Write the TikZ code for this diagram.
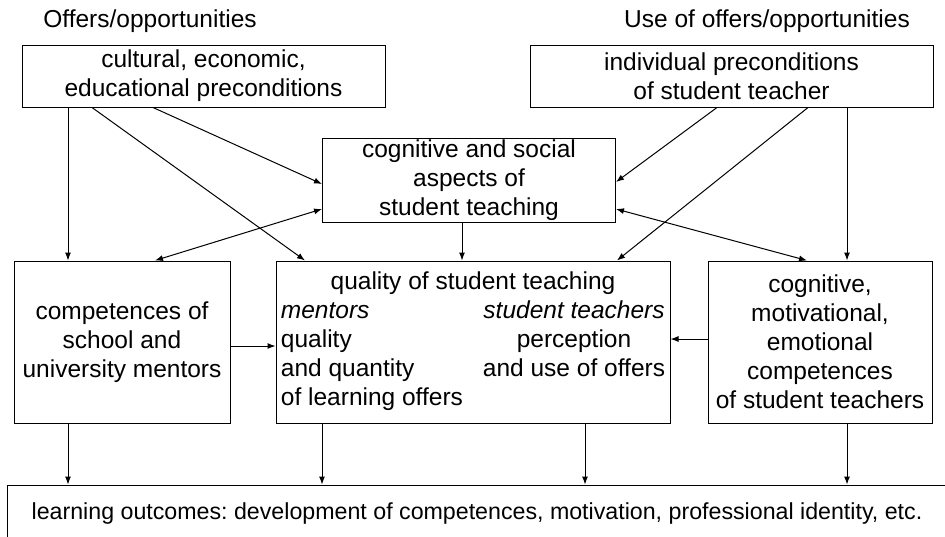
\documentclass[tikz,border=0pt]{standalone}
\usepackage{fontspec}
\setmainfont{Liberation Sans}
\usetikzlibrary{arrows.meta}
\frenchspacing

\begin{document}
\begin{tikzpicture}[x=1pt,y=-1pt,
  >={Latex[length=8pt,width=6pt]},
  box/.style={draw,line width=1pt,inner sep=0pt,align=center,
              font=\fontsize{24.5}{29}\selectfont},
  heading/.style={inner sep=0pt,font=\fontsize{24.5}{29}\selectfont},
  link/.style={->,line width=1pt}]
  \useasboundingbox (0,0) rectangle (945,536);
  \clip (0,0) rectangle (945,536);
  % The two column headings.
  \node[heading] (offers) at (150,21) {Offers/opportunities};
  \node[heading] (use) at (767,21) {Use of offers/opportunities};
  % Preconditions on top, the student teaching in the middle.
  \node[box,minimum width=363pt,minimum height=62pt] (cult) at (203.5,76)
    {cultural, economic,\\educational preconditions};
  \node[box,minimum width=403pt,minimum height=62pt] (indiv) at (731.5,76)
    {individual preconditions\\of student teacher};
  \node[box,minimum width=293pt,minimum height=84pt] (aspects) at (469,180)
    {cognitive and social\\aspects of\\student teaching};
  \node[box,minimum width=216pt,minimum height=162pt] (mentors) at (122,342)
    {competences of\\school and\\university mentors};
  \node[box,minimum width=394pt,minimum height=162pt] (quality) at (473,342)
    {\begin{tabular}{@{}l@{\hspace{20pt}}c@{}}
       \multicolumn{2}{c}{quality of student teaching}\\
       \textit{mentors} & \textit{student teachers}\\
       quality & perception\\
       and quantity & and use of offers\\
       of learning offers &
     \end{tabular}};
  \node[box,minimum width=224pt,minimum height=162pt] (compst) at (820,342)
    {cognitive,\\motivational,\\emotional\\competences\\of student teachers};
  \node[box,minimum width=940pt,minimum height=56pt,
        font=\fontsize{23.2}{28}\selectfont] (outcomes) at (477,513)
    {learning outcomes: development of competences, motivation, professional identity, etc.};

  \draw[link] (cult.south -| 68,0) -- (mentors.north -| 68,0);
  \draw[link] (cult.south -| 92,0) -- (quality.north -| 305,0);
  \draw[link] (cult.south -| 153,0) -- (aspects.west |- 0,184);
  \draw[link,<->] (aspects.west |- 0,209) -- (mentors.north -| 155,0);
  \draw[link] (aspects.south -| 462,0) -- (quality.north -| 462,0);
  \draw[link] (indiv.south -| 717,0) -- (aspects.east |- 0,182);
  \draw[link] (indiv.south -| 808,0) -- (quality.north -| 617,0);
  \draw[link] (indiv.south -| 847,0) -- (compst.north -| 847,0);
  \draw[link,<->] (aspects.east |- 0,209) -- (compst.north -| 807,0);
  \draw[link] (mentors.east |- 0,346) -- (quality.west |- 0,346);
  \draw[link] (compst.west |- 0,339) -- (quality.east |- 0,339);
  % All four middle boxes feed the learning outcomes.
  \foreach \x/\n in {68/mentors,322/quality,585/quality,847/compst}
    \draw[link] (\n.south -| \x,0) -- (outcomes.north -| \x,0);
\end{tikzpicture}
\end{document}
